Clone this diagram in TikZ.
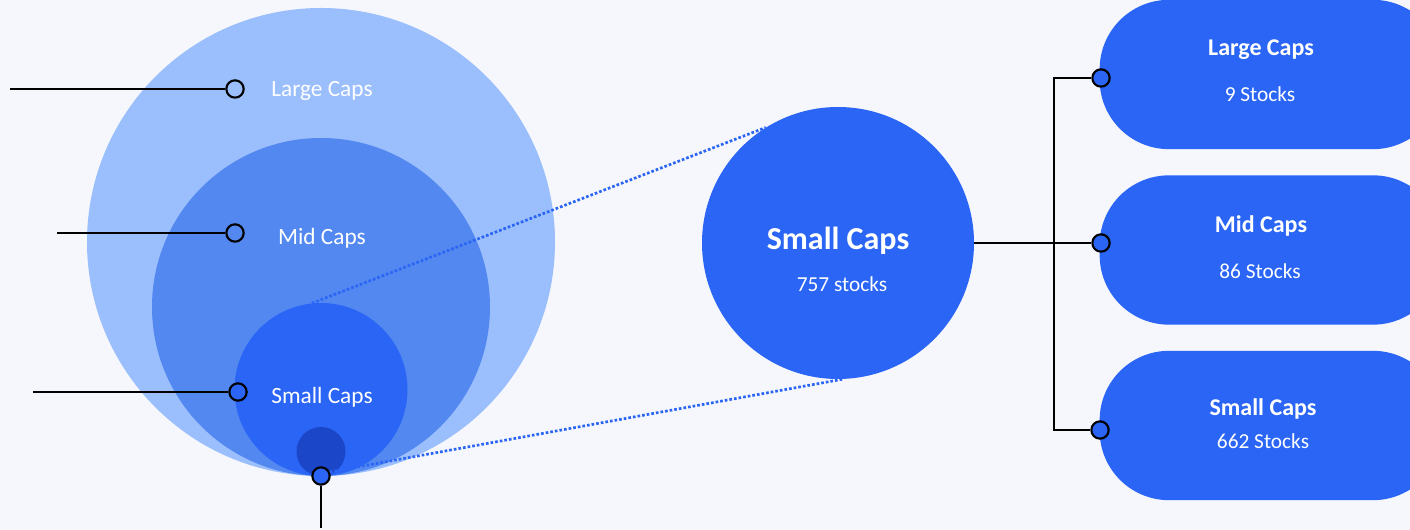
\documentclass[tikz,border=0pt]{standalone}
\usepackage{fontspec}
\setmainfont{Carlito}
\definecolor{bgpale}{HTML}{F5F7FC}
\definecolor{capslight}{HTML}{9BBEFC}
\definecolor{capsmid}{HTML}{5288F0}
\definecolor{capsblue}{HTML}{2A65F5}
\definecolor{capsdeep}{HTML}{1B46C8}
\tikzset{
  ring/.style={circle, inner sep=0pt, minimum size=#1},
  pindot/.style={circle, draw=black, line width=1.6pt, minimum size=13pt, inner sep=0pt},
  stem/.style={draw=black, line width=1.5pt},
  zoomline/.style={draw=capsblue, line width=2pt, dash pattern=on 2pt off 1.5pt},
  pill/.style={rectangle, fill=capsblue, minimum width=257pt, minimum height=112pt, rounded corners=52pt},
  lbl/.style={text=white, inner sep=0pt, font=\fontsize{17.5}{21}\selectfont},
  headlbl/.style={text=white, inner sep=0pt, font=\bfseries\fontsize{18}{22}\selectfont},
  countlbl/.style={text=white, inner sep=0pt, font=\fontsize{16}{19}\selectfont}
}
\begin{document}
\begin{tikzpicture}[x=0.75pt, y=-0.75pt]
  \useasboundingbox (0,0) rectangle (1410,530);
  \fill[bgpale] (0,0) rectangle (1410,530);
  \clip (0,0) rectangle (1410,530);

  %% nested circles
  \node[ring=351pt, fill=capslight] (large) at (321,242) {};
  \node[ring=253.5pt, fill=capsmid] (mid) at (321,307) {};
  \node[ring=129.75pt, fill=capsblue] (small) at (321,389.5) {};
  \node[ring=36.75pt, fill=capsdeep] (tiny) at (321,451.5) {};

  \node[lbl] (largetxt) at (322,91) {Large Caps};
  \node[lbl] (midtxt) at (322,238) {Mid Caps};
  \node[lbl] (smalltxt) at (322,397) {Small Caps};

  %% pins on the left
  \coordinate (largeend) at (10,89);
  \coordinate (midend) at (57,233);
  \coordinate (smallend) at (33,392);
  \coordinate (bottomend) at (321,528);
  \node[pindot] (largedot) at (235,89) {};
  \node[pindot] (middot) at (235,233) {};
  \node[pindot, fill=capsblue] (smalldot) at (238,392) {};
  \node[pindot, fill=capsblue] (bottomdot) at (321,476) {};
  \draw[stem] (largeend) -- (largedot);
  \draw[stem] (midend) -- (middot);
  \draw[stem] (smallend) -- (smalldot);
  \draw[stem] (bottomend) -- (bottomdot);

  %% zoomed small caps
  \node[ring=204pt, fill=capsblue] (zoom) at (838,243) {};
  \node[text=white, inner sep=0pt, font=\bfseries\fontsize{24}{28}\selectfont] (zoomhead) at (838,241) {Small Caps};
  \node[countlbl] (zoomcount) at (842,284) {757 stocks};
  \draw[zoomline] (small.96) -- (zoom.122);
  \draw[zoomline] (bottomdot.25) -- (zoom.-88);

  %% split into three
  \node[pill] (largepill) at (1271,74.5) {};
  \node[pill] (midpill) at (1271,250) {};
  \node[pill] (smallpill) at (1271,425.5) {};
  \node[headlbl] (largehead) at (1261,50) {Large Caps};
  \node[countlbl] (largecount) at (1260,94) {9 Stocks};
  \node[headlbl] (midhead) at (1261,226) {Mid Caps};
  \node[countlbl] (midcount) at (1260,271) {86 Stocks};
  \node[headlbl] (smallhead) at (1263,409) {Small Caps};
  \node[countlbl] (smallcount) at (1263,441) {662 Stocks};

  \coordinate (trunk) at (1054,243);
  \node[pindot, fill=capsblue] (largepin) at (1101,78) {};
  \node[pindot, fill=capsblue] (midpin) at (1101,243) {};
  \node[pindot, fill=capsblue] (smallpin) at (1100,430) {};
  \draw[stem] (zoom.east) -- (midpin);
  \draw[stem] (largepin) -- (largepin-|trunk) -- (smallpin-|trunk) -- (smallpin);
\end{tikzpicture}
\end{document}
